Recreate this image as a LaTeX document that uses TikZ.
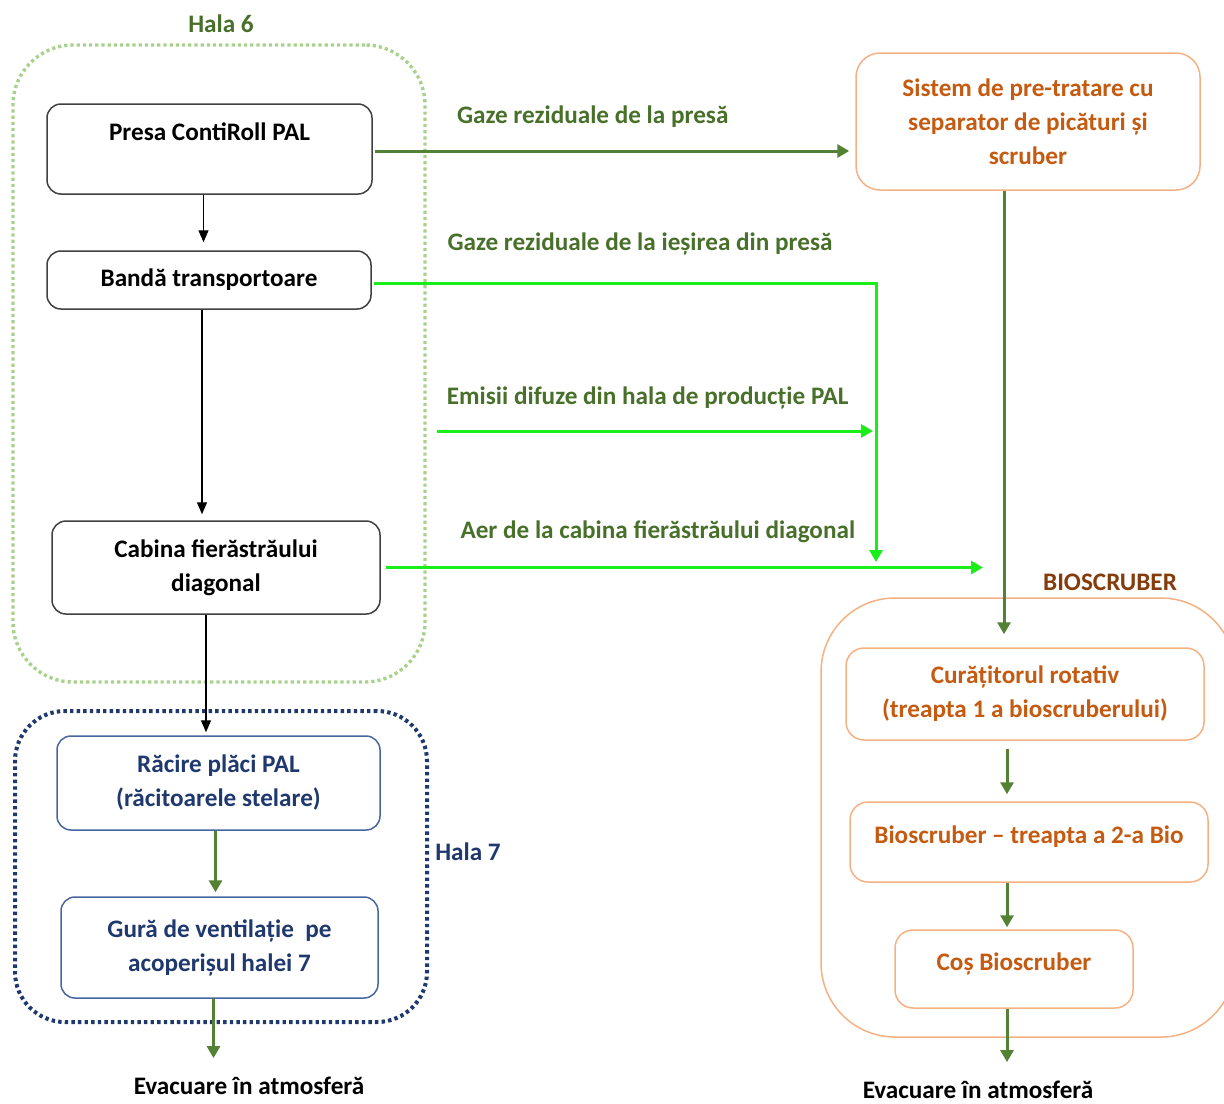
\documentclass[tikz,border=0pt]{standalone}
\usepackage{fontspec}
\setmainfont{Carlito}
\usepackage{tikz}
\usetikzlibrary{arrows.meta,positioning}

\definecolor{halagreen}{RGB}{169,209,142}
\definecolor{darkgreen}{RGB}{84,130,53}
\definecolor{labelgreen}{RGB}{72,112,42}
\definecolor{brightgreen}{RGB}{25,238,25}
\definecolor{navy}{RGB}{31,56,110}
\definecolor{boxblue}{RGB}{72,102,158}
\definecolor{orangeline}{RGB}{244,177,131}
\definecolor{orangetext}{RGB}{197,90,17}
\definecolor{browntext}{RGB}{132,60,12}

\begin{document}
\begin{tikzpicture}[
    x=0.5pt, y=-0.5pt,
    font=\fontsize{12.6}{17}\selectfont\bfseries,
    unit/.style={
        draw=black!75,
        line width=0.75pt,
        rounded corners=7pt,
        align=center,
        inner sep=0pt,
    },
    coolunit/.style={
        unit,
        draw=boxblue,
        text=navy,
    },
    bioscrubunit/.style={
        unit,
        draw=orangeline,
        text=orangetext,
        rounded corners=9pt,
    },
    hall/.style={
        line width=1.5pt,
        inner sep=0pt,
    },
    blackarrow/.style={
        -{Triangle[width=5pt,length=6pt]},
        line width=0.6pt,
        color=black,
    },
    gasarrow/.style={
        -{Triangle[width=6.5pt,length=6pt]},
        line width=1.5pt,
        color=darkgreen,
    },
    airarrow/.style={
        -{Triangle[width=6.5pt,length=6pt]},
        line width=1.5pt,
        color=brightgreen,
    },
    flowlabel/.style={
        text=labelgreen,
        inner sep=0pt,
    },
]
\useasboundingbox (0,0) rectangle (1224,1103);

% halls
\node[hall,draw=halagreen,line width=1.7pt,dash pattern=on 1.6pt off 1.5pt,rounded corners=30pt,
      minimum width=206pt,minimum height=318.5pt] (hala6) at (219,363.5) {};
\node[text=labelgreen] (hala6lbl) at (221,24) {Hala 6};

\node[hall,draw=navy,line width=2pt,dash pattern=on 1.7pt off 1.6pt,
      rounded corners=25pt,minimum width=206pt,minimum height=155.5pt] (hala7) at (221,866.5) {};
\node[text=navy] (hala7lbl) at (468,852) {Hala 7};

\node[hall,draw=orangeline,line width=0.75pt,rounded corners=37pt,
      minimum width=207pt,minimum height=219.5pt] (bioscrub) at (1028,817.5) {};
\node[text=browntext] (bioscrublbl) at (1110,582) {BIOSCRUBER};

% production line
\node[unit,minimum width=162.5pt,minimum height=45pt] (press) at (209.5,149) {%
    Presa ContiRoll PAL\\\mbox{}};
\node[unit,minimum width=162pt,minimum height=29pt] (belt) at (209,280) {%
    Bandă transportoare};
\node[unit,minimum width=164pt,minimum height=46.5pt] (saw) at (216,567.5) {%
    Cabina fierăstrăului\\diagonal};

\node[coolunit,minimum width=161.5pt,minimum height=47pt] (cool) at (218.5,783) {%
    Răcire plăci PAL\\(răcitoarele stelare)};
\node[coolunit,minimum width=158.5pt,minimum height=50.5pt] (vent) at (219.5,947.5) {%
    Gură de ventilație~ pe\\acoperișul halei 7};
\node (exit7) at (249,1086) {Evacuare în atmosferă};

% treatment
\node[bioscrubunit,rounded corners=12pt,minimum width=172pt,minimum height=68.5pt] (pretreat) at (1028,121.5) {%
    Sistem de pre-tratare cu\\separator de picături și\\scruber};
\node[bioscrubunit,minimum width=179pt,minimum height=46pt] (rotary) at (1025,694) {%
    Curățitorul rotativ\\(treapta 1 a bioscruberului)};
\node[bioscrubunit,minimum width=179pt,minimum height=40pt] (bio2) at (1029,842) {%
    Bioscruber -- treapta a 2-a Bio\\[-10pt]\mbox{}};
\node[bioscrubunit,minimum width=119pt,minimum height=39pt] (stack) at (1014,969) {%
    Coș Bioscruber\\[-10pt]\mbox{}};
\node (exitbio) at (978,1090) {Evacuare în atmosferă};

\coordinate (diffuse) at (437,431);
\coordinate (join) at (876,562);
\coordinate (bioin) at (983,567.5);

% inside the halls
\draw[blackarrow,shorten >=4pt] ([xshift=-3pt]press.south) -- ([xshift=-3pt]press.south |- belt.north);
\draw[blackarrow,shorten >=3pt] ([xshift=-3.5pt]belt.south) -- ([xshift=-3.5pt]belt.south |- saw.north);
\draw[blackarrow,shorten >=1.5pt] ([xshift=-5pt]saw.south) -- ([xshift=-5pt]saw.south |- cool.north);
\draw[gasarrow,shorten >=2pt] ([xshift=-1.5pt]cool.south) -- ([xshift=-1.5pt]cool.south |- vent.north);
\draw[gasarrow,shorten >=6pt] ([xshift=-3pt]vent.south) -- ([xshift=-3pt]vent.south |- exit7.north);

% gas flows
\draw[gasarrow,shorten <=1pt,shorten >=3pt] ([yshift=-1pt]press.east) -- ([yshift=-1pt]press.east -| pretreat.west)
    node[flowlabel,above=11pt,pos=0.456] {Gaze reziduale de la presă};
\draw[airarrow,shorten <=1pt] ([yshift=-1.5pt]belt.east) -| (join)
    node[flowlabel,above=13pt,pos=0.266] {Gaze reziduale de la ieșirea din presă};
\draw[airarrow,shorten >=1.5pt] (diffuse) -- (diffuse -| join)
    node[flowlabel,above=10pt,pos=0.48] {Emisii difuze din hala de producție PAL};
\draw[airarrow,shorten <=2.5pt] (saw.east) -- (bioin)
    node[flowlabel,above=11.5pt,pos=0.46] {Aer de la cabina fierăstrăului diagonal};

% bioscrubber
\draw[gasarrow,shorten >=6.5pt] ([xshift=-12pt]pretreat.south) -- ([xshift=-12pt]pretreat.south |- rotary.north);
\draw[gasarrow,shorten <=4pt,shorten >=3.5pt] ([xshift=-9pt]rotary.south) -- ([xshift=-9pt]rotary.south |- bio2.north);
\draw[gasarrow,shorten >=1pt] ([xshift=-11pt]bio2.south) -- ([xshift=-11pt]bio2.south |- stack.north);
\draw[gasarrow,shorten >=6pt] ([xshift=-3.5pt]stack.south) -- ([xshift=-3.5pt]stack.south |- exitbio.north);
\end{tikzpicture}
\end{document}
